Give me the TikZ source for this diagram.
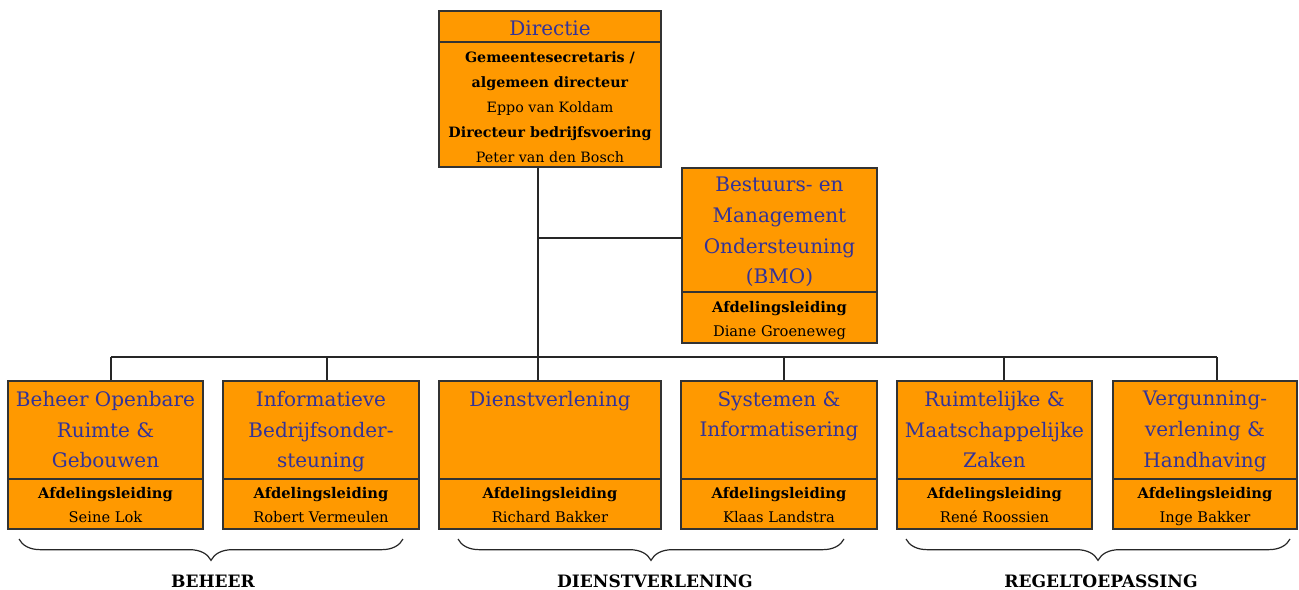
\documentclass[tikz,border=0pt]{standalone}
\usepackage{fontspec}
\setmainfont{DejaVu Serif}
\usetikzlibrary{fit,decorations.pathreplacing}
\definecolor{boxorange}{RGB}{255,153,0}
\definecolor{titleblue}{RGB}{51,51,153}
\begin{document}
\begin{tikzpicture}[x=0.75pt,y=-0.75pt,
  box/.style={draw=black!80, fill=boxorange, line width=1pt, inner sep=0pt},
  divider/.style={draw=black!80, line width=1pt},
  conn/.style={draw=black!85, line width=1pt},
  ttl/.style={text=titleblue, align=center, anchor=north, inner sep=0pt, font=\fontsize{15}{23}\selectfont},
  body/.style={align=center, anchor=north, inner sep=0pt, font=\fontsize{11}{18}\selectfont},
  grp/.style={anchor=base, inner sep=0pt, font=\fontsize{12.8}{14}\selectfont\bfseries},
  brc/.style={draw=black!85, line width=0.9pt, decorate, decoration={brace, mirror, amplitude=16pt}}]
\useasboundingbox (0,0) rectangle (1299,589);

% Directie
\node[box, fit={(439,11) (661,167)}] (dir) {};
\draw[divider] (439,42) -- (661,42);
\node[ttl] (dirt) at (550,20.5) {Directie};
\node[body, font=\fontsize{10.7}{18.75}\selectfont] (dirb) at (550,51.5)
  {\textbf{Gemeentesecretaris /}\\\textbf{algemeen directeur}\\Eppo van Koldam\\\textbf{Directeur bedrijfsvoering}\\Peter van den Bosch};

% BMO
\node[box, fit={(682,168) (877,343)}] (bmo) {};
\draw[divider] (682,292) -- (877,292);
\node[ttl] (bmot) at (779.5,177) {Bestuurs- en\\Management\\Ondersteuning\\(BMO)};
\node[body] (bmob) at (779.5,301) {\textbf{Afdelingsleiding}\\Diane Groeneweg};

% bottom boxes
\node[box, fit={(8,381) (203,529)}] (b1) {};
\node[box, fit={(223,381) (419,529)}] (b2) {};
\node[box, fit={(439,381) (661,529)}] (b3) {};
\node[box, fit={(681,381) (877,529)}] (b4) {};
\node[box, fit={(897,381) (1092,529)}] (b5) {};
\node[box, fit={(1113,381) (1297,529)}] (b6) {};
\foreach \l/\r in {8/203,223/419,439/661,681/877,897/1092,1113/1297}
  \draw[divider] (\l,479) -- (\r,479);

\node[ttl] (t1) at (105.5,391) {Beheer Openbare\\Ruimte \&\\Gebouwen};
\node[ttl] (t2) at (321,391) {Informatieve\\Bedrijfsonder-\\steuning};
\node[ttl] (t3) at (550,391) {Dienstverlening};
\node[ttl] (t4) at (779,391) {Systemen \&\\Informatisering};
\node[ttl] (t5) at (994.5,391) {Ruimtelijke \&\\Maatschappelijke\\Zaken};
\node[ttl] (t6) at (1205,391) {Vergunning-\\verlening \&\\Handhaving};

\node[body] (n1) at (105.5,487.5) {\textbf{Afdelingsleiding}\\Seine Lok};
\node[body] (n2) at (321,487.5) {\textbf{Afdelingsleiding}\\Robert Vermeulen};
\node[body] (n3) at (550,487.5) {\textbf{Afdelingsleiding}\\Richard Bakker};
\node[body] (n4) at (779,487.5) {\textbf{Afdelingsleiding}\\Klaas Landstra};
\node[body] (n5) at (994.5,487.5) {\textbf{Afdelingsleiding}\\René Roossien};
\node[body] (n6) at (1205,487.5) {\textbf{Afdelingsleiding}\\Inge Bakker};

% connectors
\coordinate (trunk) at (538,357);
\coordinate (br) at (538,238);
\coordinate (d1) at (111,357);
\coordinate (d2) at (327,357);
\coordinate (d4) at (784,357);
\coordinate (d5) at (1004,357);
\coordinate (d6) at (1217,357);
\draw[conn] (dir.south -| trunk) -- (b3.north -| trunk);
\draw[conn] (br) -- (br -| bmo.west);
\draw[conn] (d1) -- (d6);
\draw[conn] (d1) -- (d1 |- b1.north);
\draw[conn] (d2) -- (d2 |- b2.north);
\draw[conn] (d4) -- (d4 |- b4.north);
\draw[conn] (d5) -- (d5 |- b5.north);
\draw[conn] (d6) -- (d6 |- b6.north);

% braces
\coordinate (g1a) at (19,539);  \coordinate (g1b) at (403,539);
\coordinate (g2a) at (458,539); \coordinate (g2b) at (844,539);
\coordinate (g3a) at (906,539); \coordinate (g3b) at (1290,539);
\draw[brc] (g1a) -- (g1b);
\draw[brc] (g2a) -- (g2b);
\draw[brc] (g3a) -- (g3b);
\node[grp] (l1) at (213,587) {BEHEER};
\node[grp] (l2) at (655,587) {DIENSTVERLENING};
\node[grp] (l3) at (1101,587) {REGELTOEPASSING};
\end{tikzpicture}
\end{document}
